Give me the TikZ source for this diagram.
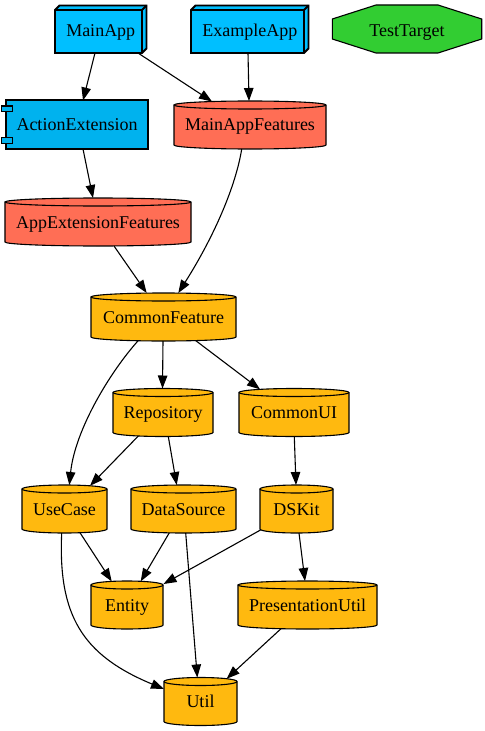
\documentclass[tikz,border=0pt]{standalone}
\usepackage{fontspec}
\setmainfont{Liberation Serif}
\usetikzlibrary{arrows.meta,calc}
\pgfdeclarelayer{background}
\pgfsetlayers{background,main}
\definecolor{appblue}{RGB}{0,191,255}
\definecolor{extblue}{RGB}{0,178,238}
\definecolor{featred}{RGB}{255,110,85}
\definecolor{modorange}{RGB}{255,185,15}
\definecolor{testgreen}{RGB}{50,205,50}
\tikzset{
  lbl/.style={inner sep=0pt, outer sep=0pt, font=\fontsize{18bp}{20bp}\selectfont, text height=12bp, text depth=0bp, align=center},
  lowlbl/.style={lbl, text height=14.5bp},
  edge/.style={draw=black, line width=1.1bp, -{Triangle[length=13bp,width=9.5bp]}},
  outline/.style={draw=black, line width=1.1bp},
  boxline/.style={draw=black, line width=1.8bp, line join=miter},
}
\newcommand\cylnode[7]{%
  \node[lbl, minimum width=#4bp, minimum height=#5bp] (#1) at (#2,#3) {#7};
  \begin{pgfonlayer}{background}
  \filldraw[outline, fill=#6] ([yshift=-4bp]#1.north west) -- ([yshift=4bp]#1.south west)
     arc[start angle=180, end angle=360, x radius=#4*0.5bp, y radius=4bp]
     -- ([yshift=-4bp]#1.north east)
     arc[start angle=0, end angle=180, x radius=#4*0.5bp, y radius=4bp] -- cycle;
  \draw[outline] ([yshift=-4bp]#1.north west) arc[start angle=180, end angle=360, x radius=#4*0.5bp, y radius=4bp];
  \end{pgfonlayer}
}
\newcommand\boxnode[5]{%
  \node[lowlbl, minimum width=#4bp, minimum height=47.5bp] (#1) at (#2,#3) {#5};
  \begin{pgfonlayer}{background}
  \filldraw[boxline, fill=appblue] ([yshift=-4.5bp]#1.north west) -- ([xshift=4.5bp]#1.north west)
     -- (#1.north east) -- ([yshift=4.5bp]#1.south east) -- ([xshift=-4.5bp]#1.south east)
     -- (#1.south west) -- cycle;
  \draw[boxline] ([yshift=-4.5bp]#1.north west) -- ([shift={(-4.5bp,-4.5bp)}]#1.north east)
     -- ([xshift=-4.5bp]#1.south east);
  \draw[boxline] ([shift={(-4.5bp,-4.5bp)}]#1.north east) -- (#1.north east);
  \end{pgfonlayer}
}
\begin{document}
\begin{tikzpicture}[x=1bp, y=-1bp]
\useasboundingbox (0,0) rectangle (485,731);

% application targets
\boxnode{ma}{100.75}{29.25}{91.5}{MainApp}
\boxnode{ea}{249.75}{29.25}{117.5}{ExampleApp}

% test target (octagon)
\node[lowlbl, minimum width=149bp, minimum height=48bp] (tt) at (407,29) {TestTarget};
\begin{pgfonlayer}{background}
\filldraw[outline, fill=testgreen] ($(tt)+(-31,-24)$) -- ($(tt)+(31,-24)$) -- ($(tt)+(74.7,-10)$)
  -- ($(tt)+(74.7,10)$) -- ($(tt)+(31,24)$) -- ($(tt)+(-31,24)$) -- ($(tt)+(-74.7,10)$)
  -- ($(tt)+(-74.7,-10)$) -- cycle;
\end{pgfonlayer}

% extension (component)
\node[lbl, minimum width=142bp, minimum height=49bp] (ae) at (77,124.5) {ActionExtension};
\begin{pgfonlayer}{background}
\filldraw[outline, fill=extblue] (ae.north west) rectangle (ae.south east);
\filldraw[outline, fill=extblue] ($(ae)+(-75.3,-18.5)$) rectangle ($(ae)+(-64.7,-12.8)$);
\filldraw[outline, fill=extblue] ($(ae)+(-75.3,13.2)$) rectangle ($(ae)+(-64.7,18.8)$);
\end{pgfonlayer}

% frameworks
\cylnode{mf}{250}{125}{152}{48}{featred}{MainAppFeatures}
\cylnode{af}{98}{222}{186}{48}{featred}{AppExtensionFeatures}
\cylnode{cf}{163.5}{317}{145}{48}{modorange}{CommonFeature}
\cylnode{rp}{163}{412.5}{100}{48}{modorange}{Repository}
\cylnode{cu}{294}{412.5}{110}{48}{modorange}{CommonUI}
\cylnode{uc}{64.5}{509}{85}{48}{modorange}{UseCase}
\cylnode{ds}{183.5}{509}{105}{48}{modorange}{DataSource}
\cylnode{dk}{296.5}{509}{73}{48}{modorange}{DSKit}
\cylnode{en}{127}{605}{72}{48}{modorange}{Entity}
\cylnode{pu}{307.5}{605}{139}{48}{modorange}{PresentationUtil}
\cylnode{ut}{200.5}{701.5}{73}{48}{modorange}{Util}

% dependencies
\draw[edge] ($(ma)+(-5.75,23.75)$) -- ($(ae)+(6,-24)$);
\draw[edge] ($(ma)+(37.25,23.75)$) -- ($(mf)+(-38,-23.5)$);
\draw[edge] ($(ea)+(-1.75,23.75)$) -- ($(mf)+(-1,-24)$);
\draw[edge] ($(ae)+(6,24.5)$) -- ($(af)+(-5,-24)$);
\draw[edge] ($(mf)+(-8.3,24)$) .. controls (236,185) and (215,235) .. ($(cf)+(14.8,-24)$);
\draw[edge] ($(af)+(16,24)$) -- ($(cf)+(-16.8,-24)$);
\draw[edge] ($(cf)+(-0.5,24)$) -- ($(rp)+(-0.5,-24)$);
\draw[edge] ($(cf)+(32.2,23.6)$) -- ($(cu)+(-34,-23.2)$);
\draw[edge] ($(cf)+(-25.2,23.5)$) .. controls (110,372) and (75,430) .. ($(uc)+(4.8,-24)$);
\draw[edge] ($(rp)+(-24.7,23.5)$) -- ($(uc)+(25.5,-23.2)$);
\draw[edge] ($(rp)+(5.3,24)$) -- ($(ds)+(-6.8,-24)$);
\draw[edge] ($(cu)+(0.3,24)$) -- ($(dk)+(-0.5,-24)$);
\draw[edge] ($(uc)+(15.5,23.7)$) -- ($(en)+(-15.3,-23.6)$);
\draw[edge] ($(uc)+(-2.8,24)$) .. controls (58,615) and (82,655) .. ($(ut)+(-36.5,-12.5)$);
\draw[edge] ($(ds)+(-14.2,23.8)$) -- ($(en)+(13.7,-23.6)$);
\draw[edge] ($(ds)+(2.2,24)$) -- ($(ut)+(-3.2,-24)$);
\draw[edge] ($(dk)+(-36,21)$) -- ($(en)+(36.5,-21)$);
\draw[edge] ($(dk)+(2.5,24)$) -- ($(pu)+(-2.5,-24)$);
\draw[edge] ($(pu)+(-26.5,23.7)$) -- ($(ut)+(26.2,-22.8)$);
\end{tikzpicture}
\end{document}
